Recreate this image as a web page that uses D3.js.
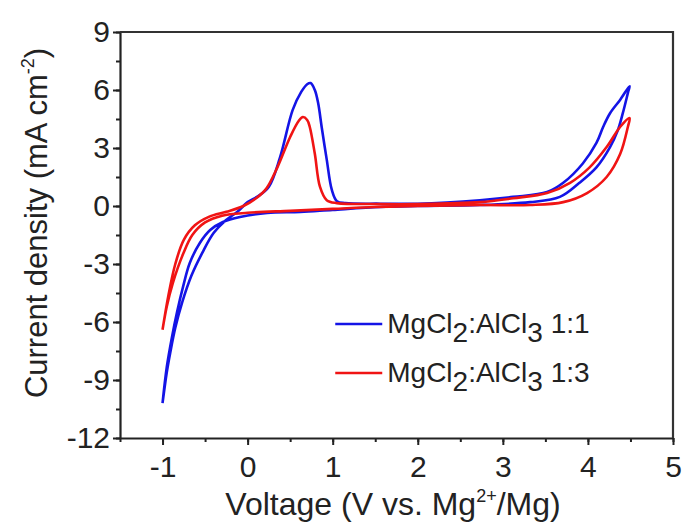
<!DOCTYPE html>
<html>
<head>
<meta charset="utf-8">
<script src="https://cdn.jsdelivr.net/npm/d3@7"></script>
<style>
  body { margin: 0; background: #fff; }
  svg { display: block; font-family: "Liberation Sans", Arial, sans-serif; }
</style>
</head>
<body>
<svg id="chart" width="684" height="530"></svg>
<script>
// CV data: [voltage V, current density mA cm^-2]
var blueLoop = [
  [-1.0, -10.2], [-0.95, -8.6], [-0.91, -7.6], [-0.85, -6.3], [-0.77, -5.0], [-0.66, -3.6],
  [-0.53, -2.4], [-0.40, -1.4], [-0.26, -0.75], [-0.12, -0.3], [0.0, 0.2], [0.12, 0.5],
  [0.25, 1.0], [0.38, 2.5], [0.53, 4.97], [0.63, 5.9], [0.70, 6.3], [0.74, 6.36], [0.79, 6.0],
  [0.83, 5.3], [0.87, 4.1], [0.93, 2.4], [0.99, 0.83], [1.05, 0.25], [1.15, 0.15], [1.56, 0.12],
  [2.0, 0.12], [2.73, 0.3], [3.12, 0.47], [3.52, 0.72], [3.71, 1.2], [3.94, 2.2], [4.10, 3.26],
  [4.18, 4.1], [4.26, 4.8], [4.38, 5.5], [4.49, 6.2],
  [4.47, 5.85], [4.41, 4.8], [4.35, 3.9], [4.26, 3.05], [4.10, 2.0], [3.90, 1.2], [3.67, 0.47],
  [3.32, 0.2], [2.73, 0.05], [2.0, 0.0], [1.56, -0.05], [1.0, -0.2], [0.62, -0.31], [0.23, -0.36],
  [-0.09, -0.57], [-0.29, -0.83], [-0.44, -1.24], [-0.56, -1.9], [-0.68, -2.95], [-0.76, -4.2],
  [-0.83, -5.5], [-0.89, -6.8], [-0.95, -8.33], [-1.0, -10.2]
];
var redLoop = [
  [-1.0, -6.4], [-0.93, -4.6], [-0.85, -3.0], [-0.75, -1.75], [-0.62, -1.0], [-0.45, -0.55],
  [-0.25, -0.3], [-0.05, 0.0], [0.1, 0.4], [0.22, 0.9], [0.35, 2.0], [0.5, 3.57], [0.6, 4.4],
  [0.65, 4.6], [0.70, 4.45], [0.73, 4.1], [0.79, 2.7], [0.85, 1.0], [0.93, 0.3], [1.05, 0.15],
  [1.56, 0.1], [2.0, 0.1], [2.73, 0.2], [3.12, 0.4], [3.52, 0.67], [3.79, 1.2], [4.02, 2.0],
  [4.22, 3.05], [4.38, 4.1], [4.49, 4.55],
  [4.47, 4.1], [4.38, 2.7], [4.22, 1.5], [3.99, 0.67], [3.71, 0.2], [3.32, 0.05], [2.73, 0.05],
  [2.0, 0.0], [1.5, -0.05], [1.0, -0.15], [0.5, -0.25], [0.0, -0.35], [-0.3, -0.5], [-0.5, -0.85],
  [-0.65, -1.5], [-0.76, -2.5], [-0.88, -4.0], [-0.95, -5.2], [-1.0, -6.4]
];
var seriesNames = ["1:1", "1:3"];
var seriesColors = ["#1414e6", "#f01414"];
var xTicks = [-1, 0, 1, 2, 3, 4, 5];
var yTicks = [-12, -9, -6, -3, 0, 3, 6, 9];

var margins = { top: 32, left: 120, right: 11, bottom: 92 };
var svg = d3.select("#chart");
var W = +svg.attr("width"), H = +svg.attr("height");
var plotW = W - margins.left - margins.right;
var plotH = H - margins.top - margins.bottom;

var xScale = d3.scaleLinear().domain([-1.5, 5]).range([0, plotW]);
var yScale = d3.scaleLinear().domain([-12, 9]).range([plotH, 0]);

var g = svg.append("g").attr("transform", "translate(" + margins.left + "," + margins.top + ")");

// plain hyphen minus like the original figure
var fmt = function(d) { return String(d); };

// minor ticks
var xMinor = d3.range(-1.5, 5.01, 0.5);
var yMinor = d3.range(-12, 9.01, 1.5);
g.append("g").attr("transform", "translate(0," + plotH + ")")
  .call(d3.axisBottom(xScale).tickValues(xMinor).tickSize(4).tickFormat(""))
  .call(function(a) { a.select(".domain").remove(); });
g.append("g")
  .call(d3.axisLeft(yScale).tickValues(yMinor).tickSize(4).tickFormat(""))
  .call(function(a) { a.select(".domain").remove(); });

// major axes
var xAxis = g.append("g").attr("transform", "translate(0," + plotH + ")")
  .call(d3.axisBottom(xScale).tickValues(xTicks).tickFormat(fmt)
    .tickSize(7).tickSizeOuter(0).tickPadding(11));
var yAxis = g.append("g")
  .call(d3.axisLeft(yScale).tickValues(yTicks).tickFormat(fmt)
    .tickSize(7).tickSizeOuter(0).tickPadding(3));

g.selectAll(".tick text").style("font-size", "30px").attr("fill", "#222");
g.selectAll(".tick line").attr("stroke", "#222").attr("stroke-width", 2);
g.selectAll(".domain").attr("stroke", "#222").attr("stroke-width", 2.2);

// top and right frame
g.append("path")
  .attr("d", "M0,0H" + plotW + "V" + plotH)
  .attr("fill", "none").attr("stroke", "#333").attr("stroke-width", 2.2);

var line = d3.line()
  .x(function(d) { return xScale(d[0]); })
  .y(function(d) { return yScale(d[1]); })
  .curve(d3.curveCatmullRom.alpha(0.5));

[blueLoop, redLoop].forEach(function(data, i) {
  g.append("path").datum(data)
    .attr("d", line)
    .attr("fill", "none")
    .attr("stroke", seriesColors[i])
    .attr("stroke-width", 2.6)
    .attr("stroke-linejoin", "round");
});

// legend
var legend = g.append("g").attr("transform", "translate(" + xScale(1.03) + "," + yScale(-6.1) + ")");
seriesNames.forEach(function(name, i) {
  var row = legend.append("g").attr("transform", "translate(0," + (i * 49) + ")");
  row.append("line").attr("x1", 0).attr("x2", 47).attr("y1", 0).attr("y2", 0)
    .attr("stroke", seriesColors[i]).attr("stroke-width", 2.6);
  var t = row.append("text").attr("x", 52).attr("y", 9).style("font-size", "28px").attr("fill", "#222");
  t.append("tspan").text("MgCl");
  t.append("tspan").text("2").attr("dy", 9);
  t.append("tspan").text(":AlCl").attr("dy", -9);
  t.append("tspan").text("3").attr("dy", 9);
  t.append("tspan").text(" " + name).attr("dy", -9);
});

// axis titles
var xt = svg.append("text")
  .attr("x", 393).attr("y", 515)
  .attr("text-anchor", "middle").style("font-size", "32px").attr("fill", "#222");
xt.append("tspan").text("Voltage (V vs. Mg");
xt.append("tspan").text("2+").attr("dy", -13).style("font-size", "18px");
xt.append("tspan").text("/Mg)").attr("dy", 13);

var yt = svg.append("text")
  .attr("transform", "translate(47,223) rotate(-90)")
  .attr("text-anchor", "middle").style("font-size", "31px").attr("fill", "#222");
yt.append("tspan").text("Current density (mA cm");
yt.append("tspan").text("-2").attr("dy", -13).style("font-size", "18px");
yt.append("tspan").text(")").attr("dy", 13);
</script>
</body>
</html>
